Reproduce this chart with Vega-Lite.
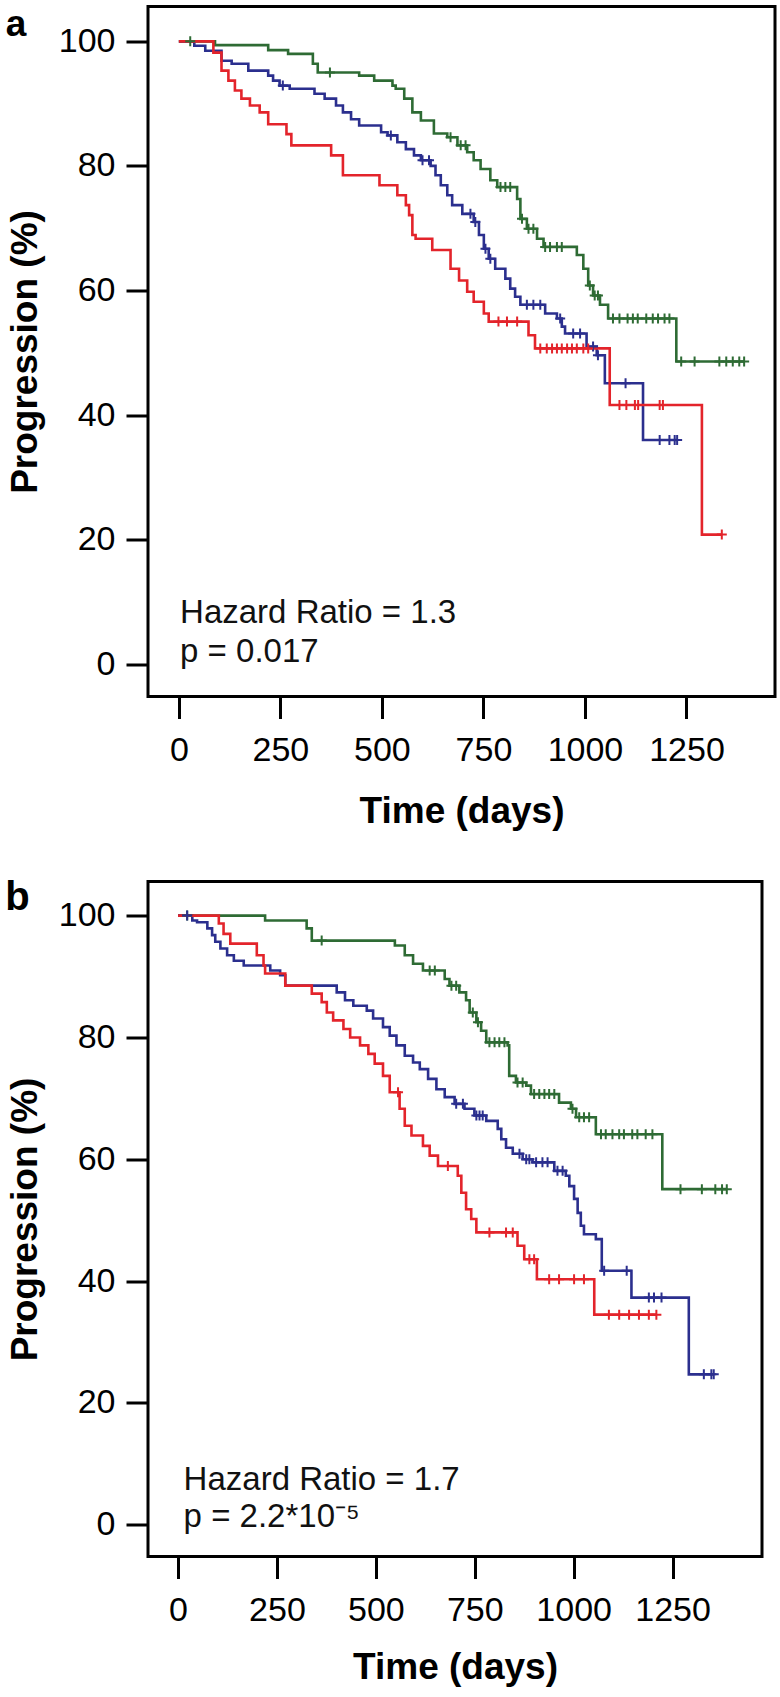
{
  "$schema": "https://vega.github.io/schema/vega-lite/v6.json",
  "background": "white",
  "padding": {"left": 3, "top": 3.5, "right": 2, "bottom": 1},
  "spacing": 44,
  "datasets": {
    "curves": [
      {"panel":"a","group":"Group 1","day":0,"pct":100},{"panel":"a","group":"Group 1","day":89,"pct":99.4},{"panel":"a","group":"Group 1","day":220,"pct":98.6},{"panel":"a","group":"Group 1","day":269,"pct":98.0},{"panel":"a","group":"Group 1","day":330,"pct":96.4},{"panel":"a","group":"Group 1","day":342,"pct":95.0},{"panel":"a","group":"Group 1","day":444,"pct":94.5},{"panel":"a","group":"Group 1","day":481,"pct":93.7},{"panel":"a","group":"Group 1","day":526,"pct":92.9},{"panel":"a","group":"Group 1","day":534,"pct":92.4},{"panel":"a","group":"Group 1","day":555,"pct":90.8},{"panel":"a","group":"Group 1","day":575,"pct":88.6},{"panel":"a","group":"Group 1","day":596,"pct":87.3},{"panel":"a","group":"Group 1","day":628,"pct":85.2},{"panel":"a","group":"Group 1","day":661,"pct":84.6},{"panel":"a","group":"Group 1","day":686,"pct":83.3},{"panel":"a","group":"Group 1","day":710,"pct":82.2},{"panel":"a","group":"Group 1","day":726,"pct":80.9},{"panel":"a","group":"Group 1","day":743,"pct":79.5},{"panel":"a","group":"Group 1","day":767,"pct":77.7},{"panel":"a","group":"Group 1","day":784,"pct":76.6},{"panel":"a","group":"Group 1","day":833,"pct":74.7},{"panel":"a","group":"Group 1","day":841,"pct":71.5},{"panel":"a","group":"Group 1","day":857,"pct":69.9},{"panel":"a","group":"Group 1","day":882,"pct":68.3},{"panel":"a","group":"Group 1","day":898,"pct":67.0},{"panel":"a","group":"Group 1","day":980,"pct":65.7},{"panel":"a","group":"Group 1","day":996,"pct":63.5},{"panel":"a","group":"Group 1","day":1008,"pct":60.8},{"panel":"a","group":"Group 1","day":1020,"pct":59.2},{"panel":"a","group":"Group 1","day":1037,"pct":57.7},{"panel":"a","group":"Group 1","day":1057,"pct":55.5},{"panel":"a","group":"Group 1","day":1225,"pct":48.6},{"panel":"a","group":"Group 1","day":1392,"pct":48.6},
      {"panel":"a","group":"Group 2","day":0,"pct":100},{"panel":"a","group":"Group 2","day":38,"pct":99.3},{"panel":"a","group":"Group 2","day":65,"pct":98.5},{"panel":"a","group":"Group 2","day":105,"pct":96.9},{"panel":"a","group":"Group 2","day":130,"pct":96.4},{"panel":"a","group":"Group 2","day":171,"pct":95.3},{"panel":"a","group":"Group 2","day":220,"pct":94.5},{"panel":"a","group":"Group 2","day":232,"pct":93.7},{"panel":"a","group":"Group 2","day":248,"pct":92.9},{"panel":"a","group":"Group 2","day":273,"pct":92.4},{"panel":"a","group":"Group 2","day":334,"pct":91.6},{"panel":"a","group":"Group 2","day":359,"pct":90.8},{"panel":"a","group":"Group 2","day":387,"pct":89.7},{"panel":"a","group":"Group 2","day":404,"pct":88.6},{"panel":"a","group":"Group 2","day":424,"pct":87.5},{"panel":"a","group":"Group 2","day":444,"pct":86.5},{"panel":"a","group":"Group 2","day":498,"pct":85.4},{"panel":"a","group":"Group 2","day":514,"pct":84.9},{"panel":"a","group":"Group 2","day":538,"pct":83.8},{"panel":"a","group":"Group 2","day":559,"pct":82.7},{"panel":"a","group":"Group 2","day":579,"pct":81.7},{"panel":"a","group":"Group 2","day":596,"pct":80.9},{"panel":"a","group":"Group 2","day":620,"pct":80.0},{"panel":"a","group":"Group 2","day":632,"pct":78.5},{"panel":"a","group":"Group 2","day":645,"pct":76.9},{"panel":"a","group":"Group 2","day":661,"pct":75.3},{"panel":"a","group":"Group 2","day":673,"pct":73.7},{"panel":"a","group":"Group 2","day":698,"pct":72.3},{"panel":"a","group":"Group 2","day":726,"pct":71.0},{"panel":"a","group":"Group 2","day":739,"pct":68.9},{"panel":"a","group":"Group 2","day":751,"pct":66.7},{"panel":"a","group":"Group 2","day":763,"pct":65.1},{"panel":"a","group":"Group 2","day":779,"pct":63.5},{"panel":"a","group":"Group 2","day":804,"pct":61.9},{"panel":"a","group":"Group 2","day":816,"pct":60.3},{"panel":"a","group":"Group 2","day":828,"pct":59.0},{"panel":"a","group":"Group 2","day":841,"pct":57.7},{"panel":"a","group":"Group 2","day":902,"pct":56.3},{"panel":"a","group":"Group 2","day":931,"pct":55.5},{"panel":"a","group":"Group 2","day":943,"pct":54.2},{"panel":"a","group":"Group 2","day":951,"pct":53.1},{"panel":"a","group":"Group 2","day":1004,"pct":51.0},{"panel":"a","group":"Group 2","day":1029,"pct":49.6},{"panel":"a","group":"Group 2","day":1049,"pct":45.1},{"panel":"a","group":"Group 2","day":1143,"pct":36.0},{"panel":"a","group":"Group 2","day":1227,"pct":36.0},
      {"panel":"a","group":"Group 3","day":0,"pct":100},{"panel":"a","group":"Group 3","day":85,"pct":98.2},{"panel":"a","group":"Group 3","day":105,"pct":95.3},{"panel":"a","group":"Group 3","day":122,"pct":93.7},{"panel":"a","group":"Group 3","day":138,"pct":92.1},{"panel":"a","group":"Group 3","day":154,"pct":90.8},{"panel":"a","group":"Group 3","day":175,"pct":89.7},{"panel":"a","group":"Group 3","day":199,"pct":88.6},{"panel":"a","group":"Group 3","day":220,"pct":86.7},{"panel":"a","group":"Group 3","day":265,"pct":85.1},{"panel":"a","group":"Group 3","day":277,"pct":83.3},{"panel":"a","group":"Group 3","day":375,"pct":81.7},{"panel":"a","group":"Group 3","day":404,"pct":78.5},{"panel":"a","group":"Group 3","day":494,"pct":76.9},{"panel":"a","group":"Group 3","day":538,"pct":75.3},{"panel":"a","group":"Group 3","day":559,"pct":73.7},{"panel":"a","group":"Group 3","day":567,"pct":72.1},{"panel":"a","group":"Group 3","day":575,"pct":68.9},{"panel":"a","group":"Group 3","day":583,"pct":68.3},{"panel":"a","group":"Group 3","day":624,"pct":66.5},{"panel":"a","group":"Group 3","day":669,"pct":63.5},{"panel":"a","group":"Group 3","day":690,"pct":61.6},{"panel":"a","group":"Group 3","day":710,"pct":59.8},{"panel":"a","group":"Group 3","day":726,"pct":58.2},{"panel":"a","group":"Group 3","day":751,"pct":56.3},{"panel":"a","group":"Group 3","day":763,"pct":55.0},{"panel":"a","group":"Group 3","day":861,"pct":52.8},{"panel":"a","group":"Group 3","day":877,"pct":50.7},{"panel":"a","group":"Group 3","day":1061,"pct":41.6},{"panel":"a","group":"Group 3","day":1288,"pct":20.8},{"panel":"a","group":"Group 3","day":1337,"pct":20.8},
      {"panel":"b","group":"Group 1","day":0,"pct":100},{"panel":"b","group":"Group 1","day":220,"pct":99.2},{"panel":"b","group":"Group 1","day":325,"pct":97.9},{"panel":"b","group":"Group 1","day":338,"pct":95.9},{"panel":"b","group":"Group 1","day":548,"pct":95.1},{"panel":"b","group":"Group 1","day":573,"pct":93.5},{"panel":"b","group":"Group 1","day":594,"pct":92.1},{"panel":"b","group":"Group 1","day":619,"pct":91.0},{"panel":"b","group":"Group 1","day":674,"pct":89.6},{"panel":"b","group":"Group 1","day":686,"pct":88.5},{"panel":"b","group":"Group 1","day":711,"pct":87.4},{"panel":"b","group":"Group 1","day":728,"pct":86.1},{"panel":"b","group":"Group 1","day":737,"pct":84.1},{"panel":"b","group":"Group 1","day":754,"pct":82.5},{"panel":"b","group":"Group 1","day":766,"pct":81.1},{"panel":"b","group":"Group 1","day":779,"pct":79.2},{"panel":"b","group":"Group 1","day":833,"pct":78.7},{"panel":"b","group":"Group 1","day":837,"pct":73.7},{"panel":"b","group":"Group 1","day":854,"pct":72.6},{"panel":"b","group":"Group 1","day":880,"pct":72.1},{"panel":"b","group":"Group 1","day":892,"pct":70.7},{"panel":"b","group":"Group 1","day":963,"pct":69.3},{"panel":"b","group":"Group 1","day":993,"pct":68.3},{"panel":"b","group":"Group 1","day":1006,"pct":66.9},{"panel":"b","group":"Group 1","day":1056,"pct":64.1},{"panel":"b","group":"Group 1","day":1224,"pct":55.1},{"panel":"b","group":"Group 1","day":1387,"pct":55.1},
      {"panel":"b","group":"Group 2","day":0,"pct":100},{"panel":"b","group":"Group 2","day":36,"pct":99.2},{"panel":"b","group":"Group 2","day":48,"pct":98.9},{"panel":"b","group":"Group 2","day":74,"pct":97.9},{"panel":"b","group":"Group 2","day":86,"pct":96.8},{"panel":"b","group":"Group 2","day":94,"pct":95.7},{"panel":"b","group":"Group 2","day":107,"pct":94.6},{"panel":"b","group":"Group 2","day":124,"pct":93.5},{"panel":"b","group":"Group 2","day":141,"pct":92.6},{"panel":"b","group":"Group 2","day":166,"pct":91.8},{"panel":"b","group":"Group 2","day":233,"pct":91.0},{"panel":"b","group":"Group 2","day":258,"pct":90.2},{"panel":"b","group":"Group 2","day":271,"pct":88.5},{"panel":"b","group":"Group 2","day":401,"pct":87.4},{"panel":"b","group":"Group 2","day":422,"pct":86.1},{"panel":"b","group":"Group 2","day":443,"pct":85.2},{"panel":"b","group":"Group 2","day":477,"pct":84.4},{"panel":"b","group":"Group 2","day":493,"pct":83.1},{"panel":"b","group":"Group 2","day":518,"pct":81.7},{"panel":"b","group":"Group 2","day":535,"pct":80.3},{"panel":"b","group":"Group 2","day":552,"pct":78.7},{"panel":"b","group":"Group 2","day":573,"pct":77.0},{"panel":"b","group":"Group 2","day":594,"pct":75.9},{"panel":"b","group":"Group 2","day":611,"pct":74.8},{"panel":"b","group":"Group 2","day":632,"pct":73.2},{"panel":"b","group":"Group 2","day":653,"pct":71.5},{"panel":"b","group":"Group 2","day":674,"pct":70.2},{"panel":"b","group":"Group 2","day":699,"pct":69.1},{"panel":"b","group":"Group 2","day":724,"pct":68.3},{"panel":"b","group":"Group 2","day":749,"pct":67.2},{"panel":"b","group":"Group 2","day":779,"pct":66.3},{"panel":"b","group":"Group 2","day":808,"pct":65.0},{"panel":"b","group":"Group 2","day":817,"pct":63.3},{"panel":"b","group":"Group 2","day":829,"pct":61.9},{"panel":"b","group":"Group 2","day":846,"pct":60.9},{"panel":"b","group":"Group 2","day":871,"pct":60.0},{"panel":"b","group":"Group 2","day":896,"pct":59.5},{"panel":"b","group":"Group 2","day":951,"pct":58.1},{"panel":"b","group":"Group 2","day":980,"pct":57.3},{"panel":"b","group":"Group 2","day":989,"pct":55.6},{"panel":"b","group":"Group 2","day":1001,"pct":53.5},{"panel":"b","group":"Group 2","day":1010,"pct":51.2},{"panel":"b","group":"Group 2","day":1018,"pct":49.1},{"panel":"b","group":"Group 2","day":1026,"pct":47.7},{"panel":"b","group":"Group 2","day":1056,"pct":46.9},{"panel":"b","group":"Group 2","day":1071,"pct":41.7},{"panel":"b","group":"Group 2","day":1146,"pct":37.3},{"panel":"b","group":"Group 2","day":1291,"pct":24.7},{"panel":"b","group":"Group 2","day":1354,"pct":24.7},
      {"panel":"b","group":"Group 3","day":0,"pct":100},{"panel":"b","group":"Group 3","day":103,"pct":98.7},{"panel":"b","group":"Group 3","day":115,"pct":97.0},{"panel":"b","group":"Group 3","day":132,"pct":95.4},{"panel":"b","group":"Group 3","day":199,"pct":93.5},{"panel":"b","group":"Group 3","day":216,"pct":91.8},{"panel":"b","group":"Group 3","day":220,"pct":90.5},{"panel":"b","group":"Group 3","day":271,"pct":88.5},{"panel":"b","group":"Group 3","day":338,"pct":87.2},{"panel":"b","group":"Group 3","day":363,"pct":85.8},{"panel":"b","group":"Group 3","day":376,"pct":84.1},{"panel":"b","group":"Group 3","day":392,"pct":82.8},{"panel":"b","group":"Group 3","day":418,"pct":81.4},{"panel":"b","group":"Group 3","day":435,"pct":80.0},{"panel":"b","group":"Group 3","day":460,"pct":78.7},{"panel":"b","group":"Group 3","day":481,"pct":77.3},{"panel":"b","group":"Group 3","day":497,"pct":75.7},{"panel":"b","group":"Group 3","day":518,"pct":73.7},{"panel":"b","group":"Group 3","day":535,"pct":71.0},{"panel":"b","group":"Group 3","day":560,"pct":68.3},{"panel":"b","group":"Group 3","day":573,"pct":65.5},{"panel":"b","group":"Group 3","day":590,"pct":63.9},{"panel":"b","group":"Group 3","day":619,"pct":62.2},{"panel":"b","group":"Group 3","day":636,"pct":60.6},{"panel":"b","group":"Group 3","day":657,"pct":58.9},{"panel":"b","group":"Group 3","day":707,"pct":57.3},{"panel":"b","group":"Group 3","day":716,"pct":54.5},{"panel":"b","group":"Group 3","day":728,"pct":51.8},{"panel":"b","group":"Group 3","day":741,"pct":50.2},{"panel":"b","group":"Group 3","day":754,"pct":48.0},{"panel":"b","group":"Group 3","day":858,"pct":45.8},{"panel":"b","group":"Group 3","day":875,"pct":43.6},{"panel":"b","group":"Group 3","day":907,"pct":40.3},{"panel":"b","group":"Group 3","day":1052,"pct":34.5},{"panel":"b","group":"Group 3","day":1209,"pct":34.5}
    ],
    "censored": [
      {"panel":"a","group":"Group 1","day":28,"pct":100},{"panel":"a","group":"Group 1","day":372,"pct":95.0},{"panel":"a","group":"Group 1","day":669,"pct":84.6},{"panel":"a","group":"Group 1","day":694,"pct":83.3},{"panel":"a","group":"Group 1","day":706,"pct":83.3},{"panel":"a","group":"Group 1","day":792,"pct":76.6},{"panel":"a","group":"Group 1","day":804,"pct":76.6},{"panel":"a","group":"Group 1","day":816,"pct":76.6},{"panel":"a","group":"Group 1","day":845,"pct":71.5},{"panel":"a","group":"Group 1","day":861,"pct":69.9},{"panel":"a","group":"Group 1","day":873,"pct":69.9},{"panel":"a","group":"Group 1","day":902,"pct":67.0},{"panel":"a","group":"Group 1","day":914,"pct":67.0},{"panel":"a","group":"Group 1","day":931,"pct":67.0},{"panel":"a","group":"Group 1","day":943,"pct":67.0},{"panel":"a","group":"Group 1","day":1012,"pct":60.8},{"panel":"a","group":"Group 1","day":1024,"pct":59.2},{"panel":"a","group":"Group 1","day":1032,"pct":59.2},{"panel":"a","group":"Group 1","day":1069,"pct":55.5},{"panel":"a","group":"Group 1","day":1085,"pct":55.5},{"panel":"a","group":"Group 1","day":1105,"pct":55.5},{"panel":"a","group":"Group 1","day":1118,"pct":55.5},{"panel":"a","group":"Group 1","day":1130,"pct":55.5},{"panel":"a","group":"Group 1","day":1151,"pct":55.5},{"panel":"a","group":"Group 1","day":1167,"pct":55.5},{"panel":"a","group":"Group 1","day":1180,"pct":55.5},{"panel":"a","group":"Group 1","day":1196,"pct":55.5},{"panel":"a","group":"Group 1","day":1208,"pct":55.5},{"panel":"a","group":"Group 1","day":1237,"pct":48.6},{"panel":"a","group":"Group 1","day":1270,"pct":48.6},{"panel":"a","group":"Group 1","day":1331,"pct":48.6},{"panel":"a","group":"Group 1","day":1348,"pct":48.6},{"panel":"a","group":"Group 1","day":1364,"pct":48.6},{"panel":"a","group":"Group 1","day":1380,"pct":48.6},{"panel":"a","group":"Group 1","day":1392,"pct":48.6},
      {"panel":"a","group":"Group 2","day":256,"pct":92.9},{"panel":"a","group":"Group 2","day":522,"pct":84.9},{"panel":"a","group":"Group 2","day":600,"pct":80.9},{"panel":"a","group":"Group 2","day":616,"pct":80.9},{"panel":"a","group":"Group 2","day":718,"pct":72.3},{"panel":"a","group":"Group 2","day":730,"pct":71.0},{"panel":"a","group":"Group 2","day":755,"pct":66.7},{"panel":"a","group":"Group 2","day":767,"pct":65.1},{"panel":"a","group":"Group 2","day":857,"pct":57.7},{"panel":"a","group":"Group 2","day":873,"pct":57.7},{"panel":"a","group":"Group 2","day":890,"pct":57.7},{"panel":"a","group":"Group 2","day":939,"pct":55.5},{"panel":"a","group":"Group 2","day":971,"pct":53.1},{"panel":"a","group":"Group 2","day":988,"pct":53.1},{"panel":"a","group":"Group 2","day":1020,"pct":51.0},{"panel":"a","group":"Group 2","day":1032,"pct":49.6},{"panel":"a","group":"Group 2","day":1100,"pct":45.1},{"panel":"a","group":"Group 2","day":1184,"pct":36.0},{"panel":"a","group":"Group 2","day":1208,"pct":36.0},{"panel":"a","group":"Group 2","day":1221,"pct":36.0},{"panel":"a","group":"Group 2","day":1227,"pct":36.0},
      {"panel":"a","group":"Group 3","day":787,"pct":55.0},{"panel":"a","group":"Group 3","day":808,"pct":55.0},{"panel":"a","group":"Group 3","day":833,"pct":55.0},{"panel":"a","group":"Group 3","day":890,"pct":50.7},{"panel":"a","group":"Group 3","day":906,"pct":50.7},{"panel":"a","group":"Group 3","day":919,"pct":50.7},{"panel":"a","group":"Group 3","day":931,"pct":50.7},{"panel":"a","group":"Group 3","day":943,"pct":50.7},{"panel":"a","group":"Group 3","day":956,"pct":50.7},{"panel":"a","group":"Group 3","day":968,"pct":50.7},{"panel":"a","group":"Group 3","day":980,"pct":50.7},{"panel":"a","group":"Group 3","day":996,"pct":50.7},{"panel":"a","group":"Group 3","day":1008,"pct":50.7},{"panel":"a","group":"Group 3","day":1085,"pct":41.6},{"panel":"a","group":"Group 3","day":1102,"pct":41.6},{"panel":"a","group":"Group 3","day":1123,"pct":41.6},{"panel":"a","group":"Group 3","day":1131,"pct":41.6},{"panel":"a","group":"Group 3","day":1184,"pct":41.6},{"panel":"a","group":"Group 3","day":1192,"pct":41.6},{"panel":"a","group":"Group 3","day":1337,"pct":20.8},
      {"panel":"b","group":"Group 1","day":23,"pct":100},{"panel":"b","group":"Group 1","day":363,"pct":95.9},{"panel":"b","group":"Group 1","day":636,"pct":91.0},{"panel":"b","group":"Group 1","day":649,"pct":91.0},{"panel":"b","group":"Group 1","day":691,"pct":88.5},{"panel":"b","group":"Group 1","day":703,"pct":88.5},{"panel":"b","group":"Group 1","day":745,"pct":84.1},{"panel":"b","group":"Group 1","day":758,"pct":82.5},{"panel":"b","group":"Group 1","day":787,"pct":79.2},{"panel":"b","group":"Group 1","day":800,"pct":79.2},{"panel":"b","group":"Group 1","day":812,"pct":79.2},{"panel":"b","group":"Group 1","day":825,"pct":79.2},{"panel":"b","group":"Group 1","day":858,"pct":72.6},{"panel":"b","group":"Group 1","day":871,"pct":72.6},{"panel":"b","group":"Group 1","day":900,"pct":70.7},{"panel":"b","group":"Group 1","day":913,"pct":70.7},{"panel":"b","group":"Group 1","day":926,"pct":70.7},{"panel":"b","group":"Group 1","day":938,"pct":70.7},{"panel":"b","group":"Group 1","day":951,"pct":70.7},{"panel":"b","group":"Group 1","day":997,"pct":68.3},{"panel":"b","group":"Group 1","day":1014,"pct":66.9},{"panel":"b","group":"Group 1","day":1026,"pct":66.9},{"panel":"b","group":"Group 1","day":1039,"pct":66.9},{"panel":"b","group":"Group 1","day":1069,"pct":64.1},{"panel":"b","group":"Group 1","day":1081,"pct":64.1},{"panel":"b","group":"Group 1","day":1098,"pct":64.1},{"panel":"b","group":"Group 1","day":1115,"pct":64.1},{"panel":"b","group":"Group 1","day":1127,"pct":64.1},{"panel":"b","group":"Group 1","day":1148,"pct":64.1},{"panel":"b","group":"Group 1","day":1161,"pct":64.1},{"panel":"b","group":"Group 1","day":1182,"pct":64.1},{"panel":"b","group":"Group 1","day":1199,"pct":64.1},{"panel":"b","group":"Group 1","day":1270,"pct":55.1},{"panel":"b","group":"Group 1","day":1324,"pct":55.1},{"panel":"b","group":"Group 1","day":1358,"pct":55.1},{"panel":"b","group":"Group 1","day":1375,"pct":55.1},{"panel":"b","group":"Group 1","day":1387,"pct":55.1},
      {"panel":"b","group":"Group 2","day":23,"pct":100},{"panel":"b","group":"Group 2","day":703,"pct":69.1},{"panel":"b","group":"Group 2","day":720,"pct":69.1},{"panel":"b","group":"Group 2","day":754,"pct":67.2},{"panel":"b","group":"Group 2","day":762,"pct":67.2},{"panel":"b","group":"Group 2","day":770,"pct":67.2},{"panel":"b","group":"Group 2","day":863,"pct":60.9},{"panel":"b","group":"Group 2","day":880,"pct":60.0},{"panel":"b","group":"Group 2","day":888,"pct":60.0},{"panel":"b","group":"Group 2","day":905,"pct":59.5},{"panel":"b","group":"Group 2","day":921,"pct":59.5},{"panel":"b","group":"Group 2","day":934,"pct":59.5},{"panel":"b","group":"Group 2","day":959,"pct":58.1},{"panel":"b","group":"Group 2","day":972,"pct":58.1},{"panel":"b","group":"Group 2","day":1077,"pct":41.7},{"panel":"b","group":"Group 2","day":1134,"pct":41.7},{"panel":"b","group":"Group 2","day":1190,"pct":37.3},{"panel":"b","group":"Group 2","day":1203,"pct":37.3},{"panel":"b","group":"Group 2","day":1222,"pct":37.3},{"panel":"b","group":"Group 2","day":1329,"pct":24.7},{"panel":"b","group":"Group 2","day":1348,"pct":24.7},{"panel":"b","group":"Group 2","day":1354,"pct":24.7},
      {"panel":"b","group":"Group 3","day":556,"pct":71.0},{"panel":"b","group":"Group 3","day":682,"pct":58.9},{"panel":"b","group":"Group 3","day":787,"pct":48.0},{"panel":"b","group":"Group 3","day":829,"pct":48.0},{"panel":"b","group":"Group 3","day":846,"pct":48.0},{"panel":"b","group":"Group 3","day":888,"pct":43.6},{"panel":"b","group":"Group 3","day":900,"pct":43.6},{"panel":"b","group":"Group 3","day":938,"pct":40.3},{"panel":"b","group":"Group 3","day":963,"pct":40.3},{"panel":"b","group":"Group 3","day":1001,"pct":40.3},{"panel":"b","group":"Group 3","day":1026,"pct":40.3},{"panel":"b","group":"Group 3","day":1089,"pct":34.5},{"panel":"b","group":"Group 3","day":1115,"pct":34.5},{"panel":"b","group":"Group 3","day":1140,"pct":34.5},{"panel":"b","group":"Group 3","day":1165,"pct":34.5},{"panel":"b","group":"Group 3","day":1190,"pct":34.5},{"panel":"b","group":"Group 3","day":1209,"pct":34.5}
    ]
  },
  "vconcat": [
    {
      "width": 627,
      "height": 690,
      "layer": [
        {
          "data": {"name": "curves"},
          "transform": [{"filter": "datum.panel === 'a'"}],
          "mark": {"type": "line", "interpolate": "step-after", "strokeWidth": 2.6},
          "encoding": {
            "x": {"field": "day", "type": "quantitative", "title": "Time (days)", "scale": {"domain": [-76, 1468], "nice": false, "zero": false}, "axis": {"values": [0, 250, 500, 750, 1000, 1250], "format": "d", "labelPadding": 15, "titlePadding": 26}},
            "y": {"field": "pct", "type": "quantitative", "title": "Progression (%)", "scale": {"domain": [-5.2, 105.6], "nice": false, "zero": false}, "axis": {"values": [0, 20, 40, 60, 80, 100], "format": "d"}},
            "color": {"field": "group", "type": "nominal", "scale": {"domain": ["Group 1", "Group 2", "Group 3"], "range": ["#2e6b34", "#2b2f8e", "#e3242b"]}, "legend": null}
          }
        },
        {
          "data": {"name": "censored"},
          "transform": [{"filter": "datum.panel === 'a'"}],
          "mark": {"type": "point", "shape": "M-1,0L1,0M0,-1L0,1", "filled": false, "size": 100, "strokeWidth": 2, "opacity": 1},
          "encoding": {
            "x": {"field": "day", "type": "quantitative", "title": "Time (days)", "scale": {"domain": [-76, 1468], "nice": false, "zero": false}},
            "y": {"field": "pct", "type": "quantitative", "title": "Progression (%)", "scale": {"domain": [-5.2, 105.6], "nice": false, "zero": false}},
            "color": {"field": "group", "type": "nominal", "scale": {"domain": ["Group 1", "Group 2", "Group 3"], "range": ["#2e6b34", "#2b2f8e", "#e3242b"]}, "legend": null}
          }
        },
        {
          "data": {"values": [{"label": "Hazard Ratio = 1.3"}]},
          "mark": {"type": "text", "align": "left", "baseline": "alphabetic", "fontSize": 33, "color": "#111111"},
          "encoding": {
            "x": {"datum": 3, "title": "Time (days)", "scale": {"domain": [-76, 1468], "nice": false, "zero": false}},
            "y": {"datum": 6.56, "title": "Progression (%)", "scale": {"domain": [-5.2, 105.6], "nice": false, "zero": false}},
            "text": {"field": "label"}
          }
        },
        {
          "data": {"values": [{"label": "p = 0.017"}]},
          "mark": {"type": "text", "align": "left", "baseline": "alphabetic", "fontSize": 33, "color": "#111111"},
          "encoding": {
            "x": {"datum": 3, "title": "Time (days)", "scale": {"domain": [-76, 1468], "nice": false, "zero": false}},
            "y": {"datum": 0.41, "title": "Progression (%)", "scale": {"domain": [-5.2, 105.6], "nice": false, "zero": false}},
            "text": {"field": "label"}
          }
        },
        {
          "data": {"values": [{"label": "a"}]},
          "mark": {"type": "text", "align": "left", "baseline": "alphabetic", "fontSize": 37, "fontWeight": "bold", "color": "#000000"},
          "encoding": {
            "x": {"datum": -426, "title": "Time (days)", "scale": {"domain": [-76, 1468], "nice": false, "zero": false}},
            "y": {"datum": 100.9, "title": "Progression (%)", "scale": {"domain": [-5.2, 105.6], "nice": false, "zero": false}},
            "text": {"field": "label"}
          }
        }
      ]
    },
    {
      "width": 614,
      "height": 675,
      "layer": [
        {
          "data": {"name": "curves"},
          "transform": [{"filter": "datum.panel === 'b'"}],
          "mark": {"type": "line", "interpolate": "step-after", "strokeWidth": 2.6},
          "encoding": {
            "x": {"field": "day", "type": "quantitative", "title": "Time (days)", "scale": {"domain": [-76, 1476], "nice": false, "zero": false}, "axis": {"values": [0, 250, 500, 750, 1000, 1250], "format": "d", "labelPadding": 15, "titlePadding": 22}},
            "y": {"field": "pct", "type": "quantitative", "title": "Progression (%)", "scale": {"domain": [-5.2, 105.6], "nice": false, "zero": false}, "axis": {"values": [0, 20, 40, 60, 80, 100], "format": "d"}},
            "color": {"field": "group", "type": "nominal", "scale": {"domain": ["Group 1", "Group 2", "Group 3"], "range": ["#2e6b34", "#2b2f8e", "#e3242b"]}, "legend": null}
          }
        },
        {
          "data": {"name": "censored"},
          "transform": [{"filter": "datum.panel === 'b'"}],
          "mark": {"type": "point", "shape": "M-1,0L1,0M0,-1L0,1", "filled": false, "size": 100, "strokeWidth": 2, "opacity": 1},
          "encoding": {
            "x": {"field": "day", "type": "quantitative", "title": "Time (days)", "scale": {"domain": [-76, 1476], "nice": false, "zero": false}},
            "y": {"field": "pct", "type": "quantitative", "title": "Progression (%)", "scale": {"domain": [-5.2, 105.6], "nice": false, "zero": false}},
            "color": {"field": "group", "type": "nominal", "scale": {"domain": ["Group 1", "Group 2", "Group 3"], "range": ["#2e6b34", "#2b2f8e", "#e3242b"]}, "legend": null}
          }
        },
        {
          "data": {"values": [{"label": "Hazard Ratio = 1.7"}]},
          "mark": {"type": "text", "align": "left", "baseline": "alphabetic", "fontSize": 33, "color": "#111111"},
          "encoding": {
            "x": {"datum": 14, "title": "Time (days)", "scale": {"domain": [-76, 1476], "nice": false, "zero": false}},
            "y": {"datum": 5.75, "title": "Progression (%)", "scale": {"domain": [-5.2, 105.6], "nice": false, "zero": false}},
            "text": {"field": "label"}
          }
        },
        {
          "data": {"values": [{"label": "p = 2.2*10⁻⁵"}]},
          "mark": {"type": "text", "align": "left", "baseline": "alphabetic", "fontSize": 33, "color": "#111111"},
          "encoding": {
            "x": {"datum": 14, "title": "Time (days)", "scale": {"domain": [-76, 1476], "nice": false, "zero": false}},
            "y": {"datum": -0.28, "title": "Progression (%)", "scale": {"domain": [-5.2, 105.6], "nice": false, "zero": false}},
            "text": {"field": "label"}
          }
        },
        {
          "data": {"values": [{"label": "b"}]},
          "mark": {"type": "text", "align": "left", "baseline": "alphabetic", "fontSize": 40, "fontWeight": "bold", "color": "#000000"},
          "encoding": {
            "x": {"datum": -437, "title": "Time (days)", "scale": {"domain": [-76, 1476], "nice": false, "zero": false}},
            "y": {"datum": 101.0, "title": "Progression (%)", "scale": {"domain": [-5.2, 105.6], "nice": false, "zero": false}},
            "text": {"field": "label"}
          }
        }
      ]
    }
  ],
  "config": {
    "font": "Liberation Sans",
    "view": {"stroke": "#000000", "strokeWidth": 3},
    "axis": {
      "domain": false,
      "grid": false,
      "ticks": true,
      "tickColor": "#000000",
      "tickWidth": 3,
      "tickSize": 22,
      "labelColor": "#000000",
      "labelFont": "Liberation Sans",
      "labelFontSize": 34,
      "labelFlush": false,
      "labelOverlap": false,
      "labelBound": false,
      "titleFont": "Liberation Sans",
      "titleFontSize": 37,
      "titleFontWeight": "bold",
      "titleColor": "#000000"
    },
    "axisY": {"labelPadding": 11, "titlePadding": 14}
  }
}
